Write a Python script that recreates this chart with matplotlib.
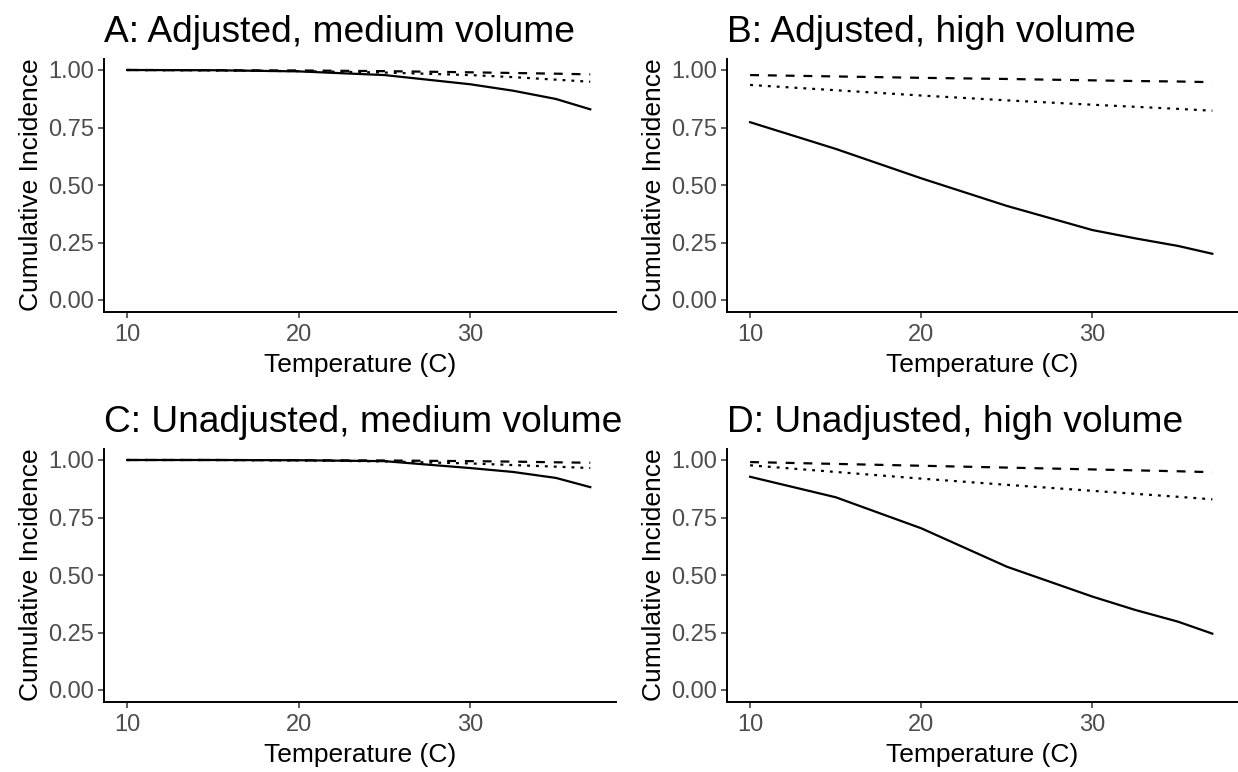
import numpy as np
import matplotlib
matplotlib.use('Agg')
import matplotlib.pyplot as plt
from matplotlib.ticker import MultipleLocator

plt.rcParams['font.family'] = ['Liberation Sans', 'DejaVu Sans']

# temperature grid (C)
temp = [10, 15, 20, 25, 30, 32.5, 35, 37]

# A: adjusted, medium volume
a_solid = [1.000, 0.999, 0.994, 0.978, 0.938, 0.910, 0.874, 0.829]
a_dash = [1.000, 0.999, 0.998, 0.995, 0.990, 0.987, 0.984, 0.981]
a_dot = [1.000, 0.998, 0.995, 0.989, 0.978, 0.969, 0.958, 0.949]

# B: adjusted, high volume
b_solid = [0.773, 0.657, 0.529, 0.409, 0.304, 0.268, 0.235, 0.201]
b_dash = [0.978, 0.972, 0.966, 0.961, 0.955, 0.952, 0.950, 0.947]
b_dot = [0.935, 0.912, 0.889, 0.868, 0.849, 0.840, 0.831, 0.823]

# C: unadjusted, medium volume
c_solid = [1.000, 1.000, 0.999, 0.995, 0.965, 0.948, 0.922, 0.882]
c_dash = [1.000, 1.000, 0.999, 0.998, 0.995, 0.993, 0.990, 0.988]
c_dot = [1.000, 1.000, 0.998, 0.994, 0.985, 0.978, 0.971, 0.965]

# D: unadjusted, high volume
d_solid = [0.927, 0.838, 0.703, 0.536, 0.406, 0.348, 0.297, 0.245]
d_dash = [0.991, 0.983, 0.975, 0.967, 0.959, 0.955, 0.951, 0.947]
d_dot = [0.977, 0.948, 0.919, 0.892, 0.866, 0.853, 0.840, 0.829]

titles = ['A: Adjusted, medium volume', 'B: Adjusted, high volume',
          'C: Unadjusted, medium volume', 'D: Unadjusted, high volume']
panels = [(a_solid, a_dash, a_dot), (b_solid, b_dash, b_dot),
          (c_solid, c_dash, c_dot), (d_solid, d_dash, d_dot)]

W, H = 1238, 772
fig = plt.figure(figsize=(W / 100, H / 100), dpi=100)

# panel boxes in pixels: left, top, width, height
boxes = [(104, 58.5, 512, 253), (727, 58.5, 511, 253),
         (104, 448.5, 512, 253), (727, 448.5, 511, 253)]

for (l, t, w, h), title, (s, da, do) in zip(boxes, titles, panels):
    ax = fig.add_axes([l / W, 1 - (t + h) / H, w / W, h / H])
    ax.plot(temp, s, color='black', lw=1.6, ls='-')
    ax.plot(temp, da, color='black', lw=1.6, dashes=(4, 4))
    ax.plot(temp, do, color='black', lw=1.6, dashes=(1.3, 2.7))
    ax.set_xlim(8.65, 38.5)
    ax.set_ylim(-0.05, 1.05)
    ax.xaxis.set_major_locator(MultipleLocator(10))
    ax.yaxis.set_major_locator(MultipleLocator(0.25))
    ax.yaxis.set_major_formatter(plt.FormatStrFormatter('%.2f'))
    for side in ['top', 'right']:
        ax.spines[side].set_visible(False)
    for side in ['left', 'bottom']:
        ax.spines[side].set_linewidth(1.4)
    ax.tick_params(length=4.5, width=1.1, color='#333333', labelsize=17,
                   labelcolor='#4D4D4D')
    ax.tick_params(axis='x', pad=4.5)
    ax.tick_params(axis='y', pad=2.5)
    ax.set_xlabel('Temperature (C)', fontsize=19, labelpad=5)
    ax.set_ylabel('Cumulative Incidence', fontsize=19, labelpad=4)
    ax.set_title(title, fontsize=26.7, loc='left', pad=12)

plt.savefig('out.png', dpi=100)
